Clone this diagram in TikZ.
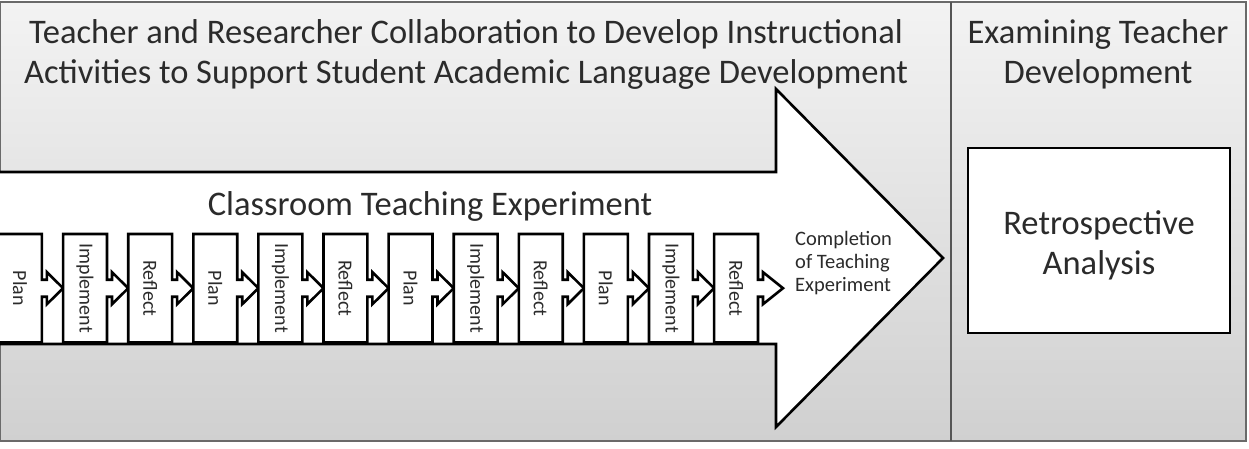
\documentclass[tikz,border=0pt]{standalone}
\usepackage{fontspec}
\setmainfont{Carlito}
\usetikzlibrary{calc}
\definecolor{txt}{HTML}{2B2B2B}
\definecolor{bgtop}{HTML}{F3F3F3}
\definecolor{bgbot}{HTML}{D0D0D0}
\definecolor{framec}{HTML}{6A6A6A}
\pgfdeclarelayer{bglayer}
\pgfdeclarelayer{boxlayer}
\pgfsetlayers{bglayer,boxlayer,main}
\begin{document}
\begin{tikzpicture}[x=1pt,y=-1pt,
  stepbox/.style={minimum width=43.5pt, minimum height=108pt, inner sep=0pt, anchor=north west, text=txt, font=\fontsize{20}{22}\selectfont},
  outl/.style={draw=black, line width=2.6pt, fill=white, line join=miter},
  titletext/.style={text=txt, font=\fontsize{34.5}{40}\selectfont, align=center, inner sep=0pt},
  smalltext/.style={text=txt, font=\fontsize{20.5}{23}\selectfont, align=left, inner sep=0pt}
]
\useasboundingbox (0,0) rectangle (1249,449);
\begin{pgfonlayer}{bglayer}
\shade[top color=bgtop, bottom color=bgbot] (0,2) rectangle (1246,441);
\draw[framec, line width=2pt] (0,2) rectangle (1246,441);
\draw[framec!80!black, line width=2pt] (951,2) -- (951,441);
\draw[outl] (-10,172) -- (776,172) -- (776,89) -- (943,258) -- (776,427) -- (776,344) -- (-10,344) -- cycle;
\end{pgfonlayer}

% titles
\node[titletext] (title) at (466,54) {Teacher and Researcher Collaboration to Develop Instructional\\Activities to Support Student Academic Language Development};
\node[titletext] (title2) at (1098,54) {Examining Teacher\\Development};
\node[titletext] (cte) at (430,206) {Classroom Teaching Experiment};
\node[smalltext, anchor=west] (compl) at (795,263) {Completion\\of Teaching\\Experiment};

% retrospective
\node[draw=black, line width=2.5pt, fill=white, minimum width=262pt, minimum height=185pt, inner sep=0pt] (retro) at (1099,240.5) {};
\node[titletext] (retrotext) at (1099,245) {Retrospective\\Analysis};

% step boxes
\foreach \i/\t in {1/Plan,2/Implement,3/Reflect,4/Plan,5/Implement,6/Reflect,7/Plan,8/Implement,9/Reflect,10/Plan,11/Implement,12/Reflect} {
  \node[stepbox] (b\i) at ({-2+65.1*(\i-1)},234) {\rotatebox{-90}{\t}};
}
\coordinate (bend) at ($(b12.east)+(25,0)$);
\begin{pgfonlayer}{boxlayer}
\foreach \i in {1,...,12} {
  \ifnum\i<12
    \pgfmathtruncatemacro\j{\i+1}
    \def\tip{b\j.west}
  \else
    \def\tip{bend}
  \fi
  \draw[outl] (b\i.south west) -- (b\i.north west) -- (b\i.north east)
    -- ($(b\i.east)+(0,-8.5)$) -- ($(b\i.east)+(5,-8.5)$) -- ($(b\i.east)+(5,-16)$)
    -- (\tip) -- ($(b\i.east)+(5,16)$) -- ($(b\i.east)+(5,8.5)$) -- ($(b\i.east)+(0,8.5)$)
    -- (b\i.south east) -- cycle;
}
\end{pgfonlayer}
\end{tikzpicture}
\end{document}
